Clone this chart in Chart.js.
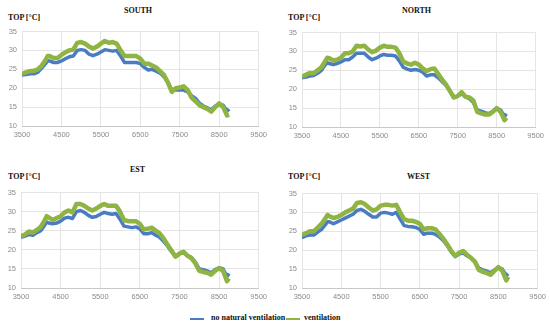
<!DOCTYPE html>
<html>
<head>
<meta charset="utf-8">
<script src="https://cdn.jsdelivr.net/npm/chart.js@4/dist/chart.umd.min.js"></script>
<style>
  html, body { margin: 0; padding: 0; background: #fff; }
  body { width: 550px; height: 328px; position: relative; overflow: hidden; }
  canvas { position: absolute; }
  .t { position: absolute; font-family: "Liberation Serif", serif; font-weight: bold; font-size: 8px; color: #111; white-space: nowrap; }
  .lg { position: absolute; height: 1.6px; }
</style>
</head>
<body>
<div class="t" style="left:124px;top:6px;">SOUTH</div>
<div class="t" style="left:8px;top:13px;">TOP [°C]</div>
<div class="t" style="left:402px;top:6px;">NORTH</div>
<div class="t" style="left:288px;top:13px;">TOP [°C]</div>
<div class="t" style="left:130px;top:165px;">EST</div>
<div class="t" style="left:8px;top:172px;">TOP [°C]</div>
<div class="t" style="left:407px;top:172px;">WEST</div>
<div class="t" style="left:288px;top:172px;">TOP [°C]</div>

<div class="lg" style="left:190px;top:318px;width:14px;background:#4a7cc4;"></div>
<div class="t" style="left:211px;top:313px;">no natural ventilation</div>
<div class="lg" style="left:286px;top:318px;width:14px;background:#8fb443;"></div>
<div class="t" style="left:304px;top:313px;">ventilation</div>

<canvas id="c1"></canvas>
<canvas id="c2"></canvas>
<canvas id="c3"></canvas>
<canvas id="c4"></canvas>

<script>
// ---- data ----
const hours = [3500,3600,3700,3800,3900,4000,4100,4150,4200,4300,4400,4500,4600,4700,4800,4900,5000,5100,5200,5300,5400,5500,5600,5700,5800,5900,6000,6100,6200,6300,6400,6500,6600,6700,6800,6900,7000,7100,7200,7300,7400,7500,7600,7700,7800,7900,8000,8100,8200,8300,8400,8500,8600,8700,8750];
const xTicks = [3500,4500,5500,6500,7500,8500,9500];
const yTicks = [10,15,20,25,30,35];
const seriesNames = ["no natural ventilation","ventilation"];

const southNoVent = [23.5,23.6,23.8,23.8,24.2,25.3,26.5,27.3,27.2,26.8,26.8,27.2,27.8,28.3,28.5,30,30.2,30,29,28.6,29,29.6,30.2,30,29.8,30,28.5,26.8,26.8,26.8,26.8,26.5,25.5,24.8,25,24.5,24,23,21.5,19.5,19.5,19.5,19.5,19,18,17.3,16,15.3,14.8,14.3,15.3,15.8,15.5,14,14.5];
const southVent   = [23.8,24.2,24.5,24.6,25,26,27.5,28.5,28.5,28,28,28.8,29.5,30,30.2,32,32.2,31.8,31,30.5,31,31.8,32.5,32,32.2,31.8,30,28.5,28.5,28.5,28.5,27.8,26.5,26.5,26,25.5,24.5,23.5,21.5,19,20,20.2,20.5,19.5,17.5,16.5,15.5,15,14.5,13.8,15,16,15,12.8,13];

const northNoVent = [23,23.2,23.5,23.6,24.2,25,26.5,27,26.8,26.5,26.8,27.2,27.8,27.8,28.5,29.5,29.5,29.5,28.5,27.8,28.2,28.8,29.2,29,29,28.8,27.5,25.8,25.3,25,25.2,25,24.5,23.5,23.8,23.8,23,22,21,19.5,17.8,18.2,18.8,18,17.5,16.5,14.5,14.2,13.8,13.5,14.2,15,14.5,12.8,13.5];
const northVent   = [23.3,23.8,24.3,24.2,25,25.8,27.5,28.3,28.2,27.6,27.8,28.3,29.5,29.5,30,31.5,31.3,31.5,30.5,29.8,30.2,31,31.5,31.2,31.2,31,29.5,27.3,26.8,26.5,27,26.5,25.5,24.8,25.3,25.5,24,22.5,21.2,19.5,17.8,18.2,19.2,18,17.8,17,14,13.6,13.3,13.3,14,15,14,11.8,12.5];

const estNoVent = [23.3,23.6,24,23.8,24.5,25,26.5,27.3,27,26.8,27,27.5,28.3,28.5,28.2,30,30.3,29.8,29,28.5,28.7,29.3,29.8,29.5,29.3,29.5,28,26.2,26,25.8,26,25.5,24.2,24.2,24.5,23.8,23.3,22.2,21,19.5,18.3,19,19.3,18.5,18,16.8,15,14.8,14.5,14,14.8,15.3,15,13,13.8];
const estVent   = [23.6,24,24.8,24.5,25.2,26,27.8,28.8,28.5,27.8,28.3,28.8,29.8,30.3,29.8,32,32,31.5,30.8,30.3,30.8,31.5,32,31.5,31.5,31.5,30,27.8,27.5,27.5,27.5,26.8,25.3,25.5,25.8,25,24.3,23,21.3,19.8,18.2,19,19.5,18.5,17.8,16.5,14.5,14.2,14,13.5,14.5,15.2,14.5,11.8,12.5];

const westNoVent = [23.3,23.8,24,24,24.8,25.5,26.8,27.5,27.5,27,27.5,28,28.5,29,29.5,30.5,30.8,30.3,29.5,28.8,28.8,29.8,30,29.8,29.5,30,28.2,26.5,26.3,26.2,26,25.5,24.2,24.5,24.5,24.2,23.5,22.5,21.2,19.5,18.3,19,19.3,18.5,18,17,15.3,14.8,14.5,14,14.8,15.5,15,13.3,13.8];
const westVent   = [24,24.5,25,25,26,27,28.5,29.3,29,28.5,28.8,29.3,30,30.5,31,32.5,32.7,32.2,31.3,30.5,30.8,31.8,32,32,31.8,32,30,28.2,27.8,27.8,27.5,27,25.5,25.8,25.8,25.5,24.3,23,21.5,19.8,18.5,19.3,19.8,18.8,18,17,14.8,14.3,14,13.5,14.5,15.5,14.5,12,13];

// ---- drawing ----
const BLUE = '#4a7cc4', GREEN = '#8fb443';
const YW = 22, XH = 13;

function makeChart(id, noVent, vent, area) {
  const cv = document.getElementById(id);
  const left = area.L - YW, top = area.T - 5;
  const w = area.R - left + 10, h = area.B - top + XH;
  cv.style.left = left + 'px'; cv.style.top = top + 'px';
  cv.width = w; cv.height = h;
  cv.style.width = w + 'px'; cv.style.height = h + 'px';
  const pts = arr => hours.map((x, i) => ({ x: x, y: arr[i] }));
  new Chart(cv, {
    type: 'line',
    data: {
      datasets: [
        { label: seriesNames[0], data: pts(noVent), borderColor: BLUE, borderWidth: 3.5, pointRadius: 0, tension: 0, borderJoinStyle: 'round', order: 2 },
        { label: seriesNames[1], data: pts(vent), borderColor: GREEN, borderWidth: 4.5, pointRadius: 0, tension: 0, borderJoinStyle: 'round', order: 1 }
      ]
    },
    options: {
      responsive: false, animation: false, devicePixelRatio: 1,
      layout: { padding: 0 },
      plugins: { legend: { display: false }, tooltip: { enabled: false }, title: { display: false } },
      scales: {
        x: {
          type: 'linear', min: 3500, max: 9500,
          afterBuildTicks: s => { s.ticks = xTicks.map(v => ({ value: v })); },
          afterFit: s => { s.height = XH; },
          grid: { color: '#dedede', lineWidth: 0.8, drawTicks: false },
          border: { color: '#c8c8c8' },
          ticks: { color: '#8c8c8c', font: { family: 'Liberation Sans', size: 7.5 }, padding: 4, maxRotation: 0, autoSkip: false, callback: v => String(v) }
        },
        y: {
          min: 10, max: 35,
          afterBuildTicks: s => { s.ticks = yTicks.map(v => ({ value: v })); },
          afterFit: s => { s.width = YW; },
          grid: { color: '#dedede', lineWidth: 0.8, drawTicks: false },
          border: { display: false },
          ticks: { color: '#8c8c8c', font: { family: 'Liberation Sans', size: 7.5 }, padding: 5, callback: v => String(v) }
        }
      }
    }
  });
}

makeChart('c1', southNoVent, southVent, { L: 22, R: 261, T: 27, B: 126 });
makeChart('c2', northNoVent, northVent, { L: 302, R: 538, T: 28, B: 127 });
makeChart('c3', estNoVent, estVent, { L: 21, R: 261, T: 188, B: 288 });
makeChart('c4', westNoVent, westVent, { L: 302, R: 540, T: 189, B: 288 });
</script>
</body>
</html>
